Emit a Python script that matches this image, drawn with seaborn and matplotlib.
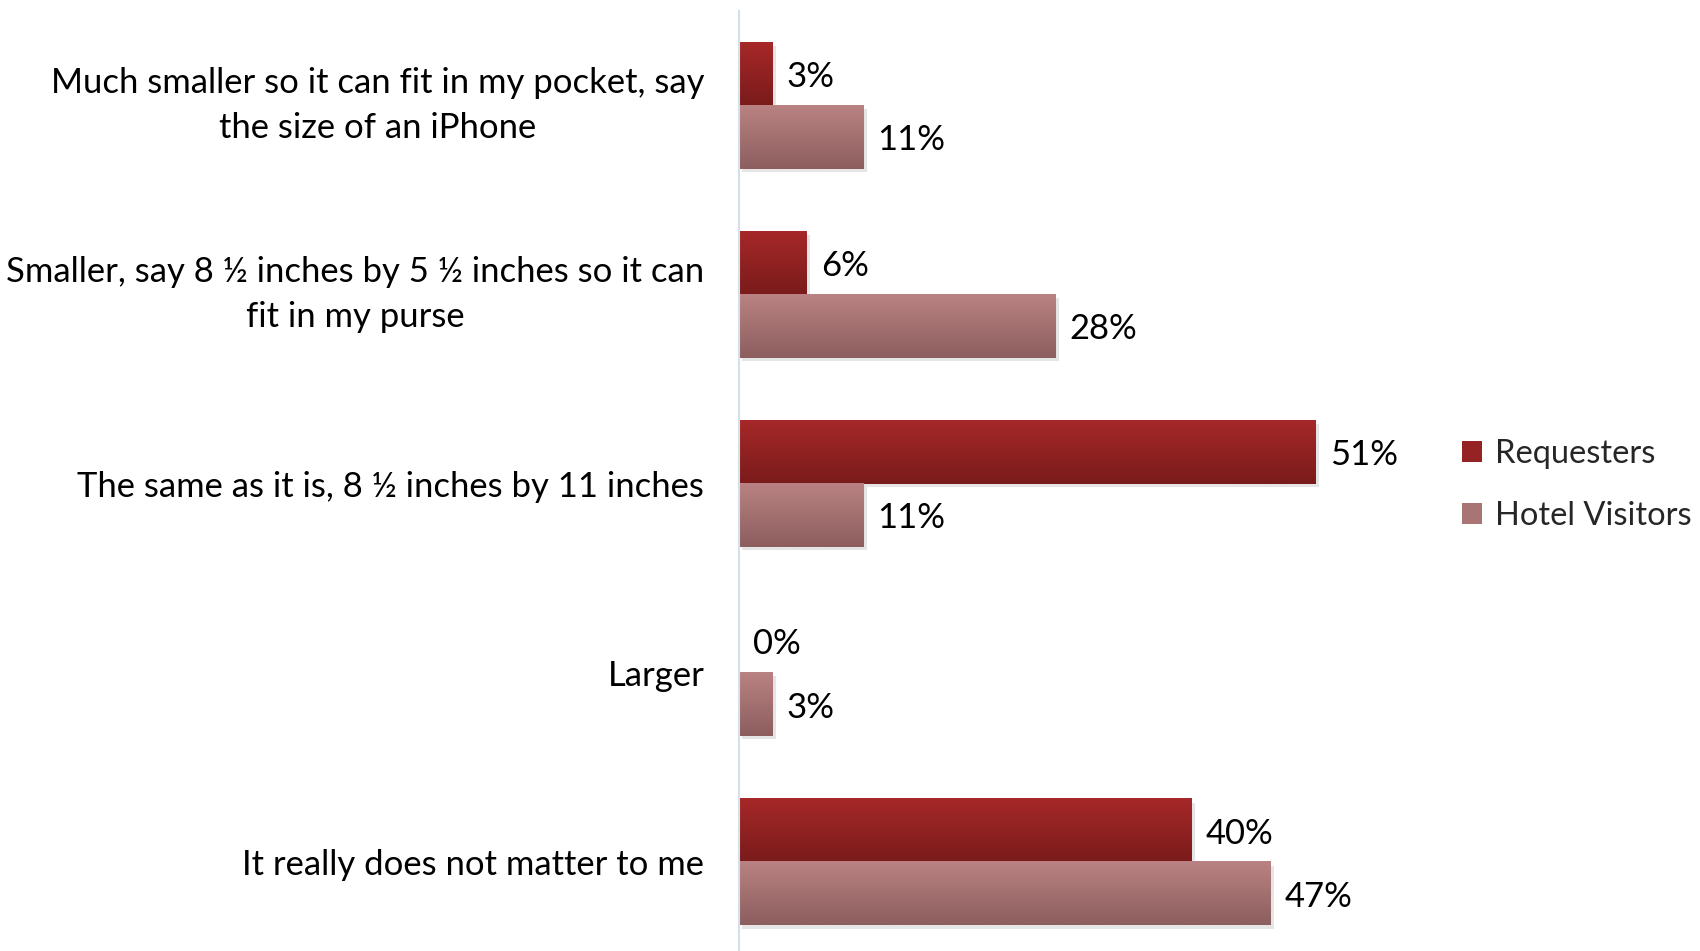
import numpy as np
import pandas as pd
import matplotlib
matplotlib.use("Agg")
import matplotlib.pyplot as plt
import matplotlib.patheffects as pe
from matplotlib.colors import LinearSegmentedColormap
from matplotlib.patches import Patch
import seaborn as sns

categories = [
    "Much smaller so it can fit in my pocket, say\nthe size of an iPhone",
    "Smaller, say 8 \u00bd inches by 5 \u00bd inches so it can\nfit in my purse",
    "The same as it is, 8 \u00bd inches by 11 inches",
    "Larger",
    "It really does not matter to me",
]
series_names = ["Requesters", "Hotel Visitors"]
requesters = [3, 6, 51, 0, 40]
hotel_visitors = [11, 28, 11, 3, 47]

top_colors = {"Requesters": "#A62828", "Hotel Visitors": "#BA8282"}
bottom_colors = {"Requesters": "#7A1B1B", "Hotel Visitors": "#8C5E5E"}
mid_colors = {"Requesters": "#962323", "Hotel Visitors": "#A97474"}

df = pd.DataFrame({
    "Category": categories * 2,
    "Series": [series_names[0]] * len(categories) + [series_names[1]] * len(categories),
    "Value": requesters + hotel_visitors,
})

sns.set_theme(style="white")
plt.rcParams["font.family"] = ["Lato", "DejaVu Sans"]
FS = 24.9

fig = plt.figure(figsize=(17, 9.51), dpi=100)
ax = fig.add_axes([739 / 1700, -0.006, 678.6 / 1700, 0.9945])

sns.barplot(data=df, y="Category", x="Value", hue="Series", order=categories,
            hue_order=series_names, orient="h", width=2 / 3,
            palette=mid_colors, legend=False, ax=ax, edgecolor="none", linewidth=0)

ax.set_xlim(0, 60)
ylim = ax.get_ylim()

for cont, name in zip(ax.containers, series_names):
    cmap = LinearSegmentedColormap.from_list(name, [top_colors[name], bottom_colors[name]])
    grad = np.linspace(0, 1, 64).reshape(-1, 1)
    for bar in cont:
        w = bar.get_width()
        if w <= 0:
            continue
        bar.set_path_effects([pe.SimplePatchShadow(offset=(2.5, -2.5), shadow_rgbFace="#999999", alpha=0.25)])
        y0, h = bar.get_y(), bar.get_height()
        ax.imshow(grad, cmap=cmap, aspect="auto", origin="upper",
                  extent=(bar.get_x(), bar.get_x() + w, y0 + h, y0), zorder=bar.get_zorder() + 0.5,
                  interpolation="bilinear")
    texts = ax.bar_label(cont, labels=[f"{v:g}%" for v in cont.datavalues], padding=10,
                         fontsize=FS, color="black")
    for t in texts:
        t.set_va("center_baseline")

ax.set_xlim(0, 60)
ax.set_ylim(ylim)
ax.set_xlabel("")
ax.set_ylabel("")
ax.set_xticks([])
ax.tick_params(axis="y", length=0, pad=25, labelsize=FS, labelcolor="black")
for lbl in ax.get_yticklabels():
    lbl.set_multialignment("center")
    lbl.set_linespacing(1.48)
    if "\n" in lbl.get_text():
        lbl.set_va("center")
for s in ["top", "right", "bottom"]:
    ax.spines[s].set_visible(False)
ax.spines["left"].set_color("#D5E0EC")
ax.spines["left"].set_linewidth(1.5)

handles = [Patch(facecolor=mid_colors[n], edgecolor="none") for n in series_names]
fig.legend(handles, series_names, loc="center left", bbox_to_anchor=(1462 / 1700, 1 - 485 / 951),
           frameon=False, fontsize=23.5, handlelength=0.62, handleheight=0.62,
           handletextpad=0.4, labelspacing=1.0, borderpad=0, borderaxespad=0)

fig.savefig("out.png", dpi=100)
